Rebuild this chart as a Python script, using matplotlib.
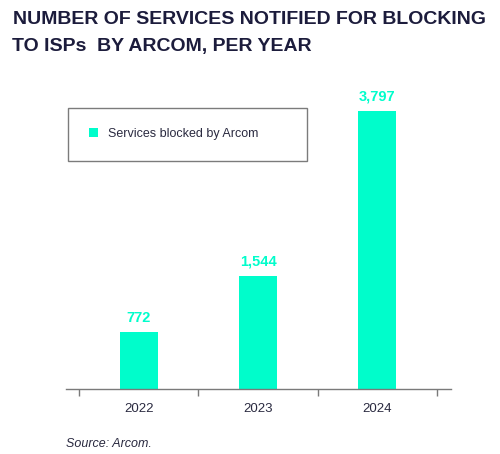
import numpy as np
import matplotlib.pyplot as plt

plt.rcParams['font.family'] = ['Liberation Sans', 'DejaVu Sans']

# data
years = ['2022', '2023', '2024']
services_blocked = [772, 1544, 3797]
value_labels = ['772', '1,544', '3,797']
series_name = 'Services blocked by Arcom'

bar_color = '#00FDCB'
navy = '#1c1c3c'
grey = '#7a7a7a'

fig = plt.figure(figsize=(5.0, 4.54), dpi=100)
ax = fig.add_axes([0.132, 0.1432, 0.77, 0.678])

x = np.arange(len(years))
bars = ax.bar(x, services_blocked, width=0.318, color=bar_color, label=series_name)

ax.bar_label(bars, labels=value_labels, padding=5, color=bar_color,
             fontsize=10.5, fontweight='bold')

ax.set_xlim(-0.609, 2.617)
ax.set_ylim(0, 4200)

for side in ['top', 'right', 'left']:
    ax.spines[side].set_visible(False)
ax.spines['bottom'].set_color(grey)
ax.spines['bottom'].set_linewidth(1)

ax.set_yticks([])
# tick marks sit between categories, labels under the bars
ax.set_xticks(np.arange(-0.5, len(years)), labels=[])
ax.set_xticks(x, labels=years, minor=True)
ax.tick_params(axis='x', which='major', direction='out', length=5, width=1, color=grey)
ax.tick_params(axis='x', which='minor', length=0, pad=10, labelsize=9.5, labelcolor='#2a2a40')

leg = ax.legend(loc='center left', bbox_to_anchor=(0.006, 0.74, 0.62, 0.175),
                mode='expand', fancybox=False, frameon=True, fontsize=9,
                handlelength=0.75, handleheight=0.75, handletextpad=0.8,
                borderpad=1.65, borderaxespad=0)
leg.get_frame().set_edgecolor('#5a5a5a')
leg.get_frame().set_linewidth(1)
for t in leg.get_texts():
    t.set_color('#2a2a40')

fig.text(0.026, 0.958, 'NUMBER OF SERVICES NOTIFIED FOR BLOCKING',
         fontsize=14, fontweight='bold', color=navy, va='center', ha='left')
fig.text(0.023, 0.897, 'TO ISPs  BY ARCOM, PER YEAR',
         fontsize=14, fontweight='bold', color=navy, va='center', ha='left')

fig.text(0.133, 0.022, 'Source: Arcom.', fontsize=9, style='italic',
         color='#2a2a40', va='center', ha='left')

fig.savefig('out.png', dpi=100, facecolor='white')
